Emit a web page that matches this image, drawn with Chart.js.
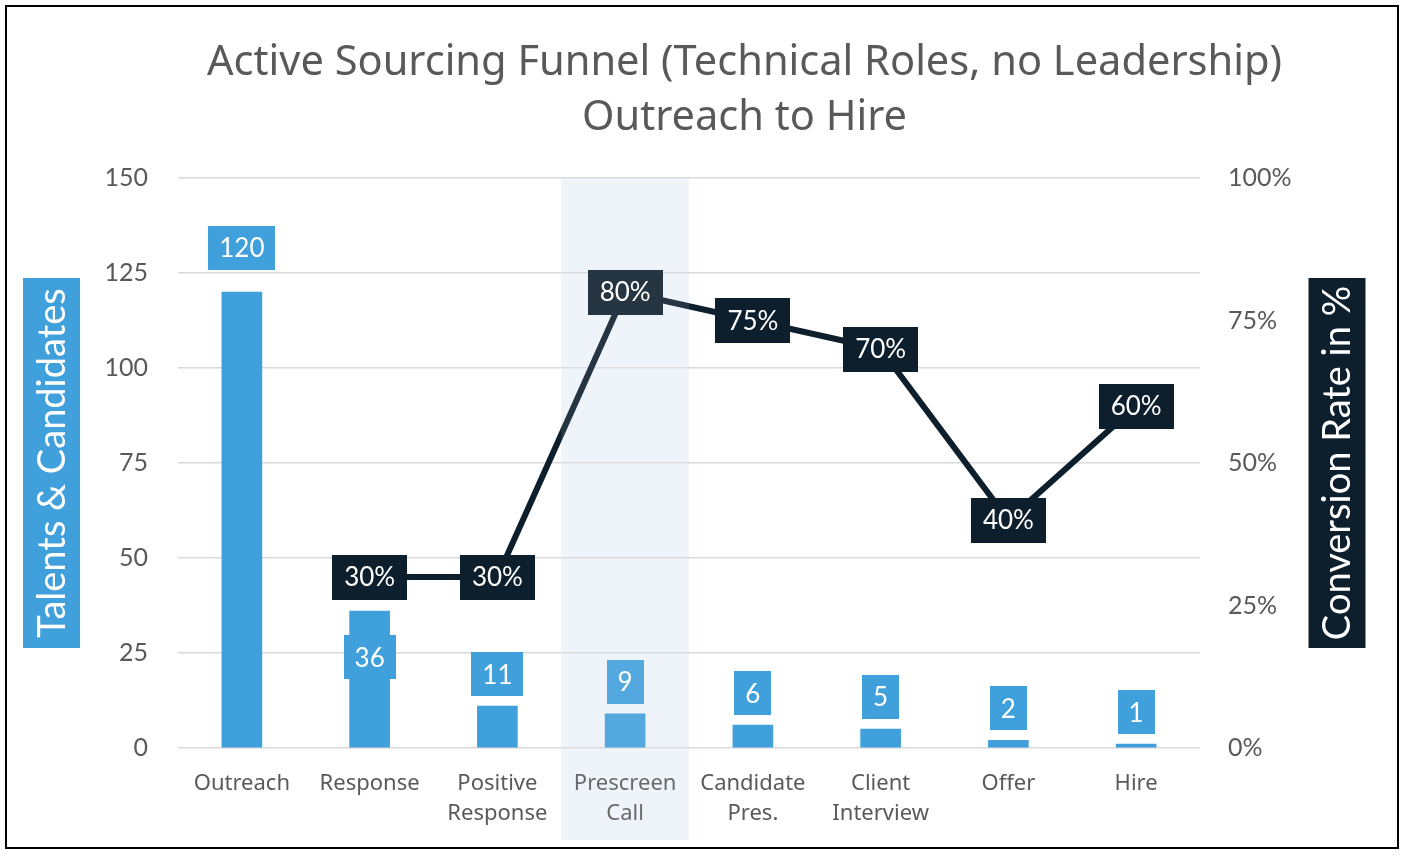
<!DOCTYPE html>
<html>
<head>
<meta charset="utf-8">
<script src="https://cdn.jsdelivr.net/npm/chart.js@4.4.1/dist/chart.umd.min.js"></script>
<style>
    html, body { margin: 0; padding: 0; background: #fff; }
    #wrap { position: relative; width: 1404px; height: 856px; }
    #frame { position: absolute; left: 5px; top: 5px; width: 1390px; height: 840px; border: 2px solid #000; pointer-events: none; }
</style>
</head>
<body>
<div id="wrap">
    <canvas id="funnel" width="1404" height="856"></canvas>
    <div id="frame"></div>
</div>
<script>
// Funnel data
const stages = [
    ["Outreach"],
    ["Response"],
    ["Positive", "Response"],
    ["Prescreen", "Call"],
    ["Candidate", "Pres."],
    ["Client", "Interview"],
    ["Offer"],
    ["Hire"],
];
const headcount = [120, 36, 11, 9, 6, 5, 2, 1];
const conversion = [null, 30, 30, 80, 75, 70, 40, 60];
const countTicks = [0, 25, 50, 75, 100, 125, 150];
const rateTicks = [0, 25, 50, 75, 100];
const titleLines = ["Active Sourcing Funnel (Technical Roles, no Leadership)", "Outreach to Hire"];
const countTitle = "Talents & Candidates";
const rateTitle = "Conversion Rate in %";
const focusStage = 3; // highlighted column

const GRAY = "#595959";
const BLUE = "#40a0dc";
const NAVY = "#0d1f2d";

// Draws label boxes, axis title boxes, the title and the highlight band
const funnelDecor = {
    id: "funnelDecor",
    bandRect(chart, opts) {
        const x = chart.scales.x;
        const half = (x.getPixelForValue(1) - x.getPixelForValue(0)) / 2;
        const cx = x.getPixelForValue(opts.focus);
        return { left: cx - half, top: chart.chartArea.top, width: half * 2, height: opts.bandBottom - chart.chartArea.top };
    },
    beforeDraw(chart, args, opts) {
        const r = this.bandRect(chart, opts);
        const { ctx } = chart;
        ctx.save();
        ctx.fillStyle = opts.bandColor;
        ctx.fillRect(r.left, r.top, r.width, r.height);
        ctx.restore();
    },
    afterDatasetsDraw(chart, args, opts) {
        const { ctx } = chart;
        const box = (cx, cy, text, bg, padX, h) => {
            const w = ctx.measureText(text).width + padX * 2;
            ctx.fillStyle = bg;
            ctx.fillRect(Math.round(cx - w / 2), Math.round(cy - h / 2), Math.round(w), h);
            ctx.fillStyle = "#fff";
            ctx.fillText(text, cx, cy + 1);
        };
        ctx.save();
        ctx.font = "26px Lato";
        ctx.textAlign = "center";
        ctx.textBaseline = "middle";
        // bar value labels
        const bars = chart.getDatasetMeta(0).data;
        bars.forEach((bar, i) => {
            const h = 44;
            const bottom = bar.y - opts.barLabelGap[i];
            box(bar.x, bottom - h / 2, String(headcount[i]), BLUE, 11, h);
        });
        // conversion labels
        const pts = chart.getDatasetMeta(1).data;
        pts.forEach((pt, i) => {
            if (conversion[i] === null) return;
            box(pt.x, pt.y, conversion[i] + "%", NAVY, 12, 45);
        });
        ctx.restore();
    },
    afterDraw(chart, args, opts) {
        const { ctx, chartArea } = chart;
        const midY = (chartArea.top + chartArea.bottom) / 2;
        ctx.save();
        // axis title boxes
        const sideTitle = (cx, text, bg) => {
            ctx.save();
            ctx.translate(cx, midY);
            ctx.rotate(-Math.PI / 2);
            ctx.fillStyle = bg;
            ctx.fillRect(-185, -28.5, 370, 57);
            ctx.fillStyle = "#fff";
            ctx.font = "38px Lato";
            ctx.textAlign = "center";
            ctx.textBaseline = "middle";
            ctx.fillText(text, 0, 1);
            ctx.restore();
        };
        sideTitle(51.5, countTitle, BLUE);
        sideTitle(1337, rateTitle, NAVY);

        // chart title, slightly condensed
        ctx.fillStyle = GRAY;
        ctx.font = "42px 'Noto Sans'";
        ctx.textAlign = "center";
        ctx.textBaseline = "alphabetic";
        const sx = opts.titleWidth / ctx.measureText(titleLines[0]).width;
        ctx.save();
        ctx.translate(opts.titleX, 0);
        ctx.scale(sx, 1);
        ctx.fillText(titleLines[0], 0, 75);
        ctx.fillText(titleLines[1], 0, 130);
        ctx.restore();

        // light veil over the highlighted column
        const r = this.bandRect(chart, opts);
        ctx.fillStyle = "rgba(255,255,255,0.1)";
        ctx.fillRect(r.left, r.top, r.width, r.height);
        ctx.restore();
    },
};

const ctx = document.getElementById("funnel");

// eslint-disable-next-line no-unused-vars
const chart = new Chart(ctx, {
    data: {
        labels: stages,
        datasets: [
            {
                type: "bar",
                label: "Talents & Candidates",
                data: headcount,
                yAxisID: "y",
                backgroundColor: BLUE,
                barThickness: 40,
                order: 2,
            },
            {
                type: "line",
                label: "Conversion Rate",
                data: conversion,
                yAxisID: "y1",
                borderColor: NAVY,
                borderWidth: 6,
                pointRadius: 0,
                tension: 0,
                order: 1,
            },
        ],
    },
    options: {
        responsive: false,
        animation: false,
        layout: {
            padding: { top: 178, left: 0, right: 0, bottom: 0 },
        },
        scales: {
            x: {
                grid: { display: false },
                border: { display: false },
                ticks: {
                    color: GRAY,
                    font: { family: "'Noto Sans'", size: 22, lineHeight: 1.4 },
                    padding: 12,
                    maxRotation: 0,
                    autoSkip: false,
                },
                afterFit(scale) { scale.height = 108; },
            },
            y: {
                position: "left",
                min: countTicks[0],
                max: countTicks[countTicks.length - 1],
                afterBuildTicks(scale) { scale.ticks = countTicks.map((v) => ({ value: v })); },
                grid: { color: "#d9d9d9", lineWidth: 1.5, drawTicks: false },
                border: { display: false },
                ticks: {
                    color: GRAY,
                    font: { family: "Lato", size: 25 },
                    padding: 30,
                },
                afterFit(scale) { scale.width = 178; },
            },
            y1: {
                position: "right",
                min: rateTicks[0],
                max: rateTicks[rateTicks.length - 1],
                afterBuildTicks(scale) { scale.ticks = rateTicks.map((v) => ({ value: v })); },
                grid: { display: false, drawTicks: false },
                border: { display: false },
                ticks: {
                    color: GRAY,
                    font: { family: "Lato", size: 25 },
                    padding: 28,
                    callback: (v) => v + "%",
                },
                afterFit(scale) { scale.width = 204; },
            },
        },
        plugins: {
            legend: { display: false },
            tooltip: { enabled: false },
            funnelDecor: {
                focus: focusStage,
                bandColor: "#eef3fb",
                bandBottom: 840,
                barLabelGap: [22, -68, 10, 10, 10, 10, 10, 10],
                titleX: 744.5,
                titleWidth: 1075,
            },
        },
    },
    plugins: [funnelDecor],
});
</script>
</body>
</html>
